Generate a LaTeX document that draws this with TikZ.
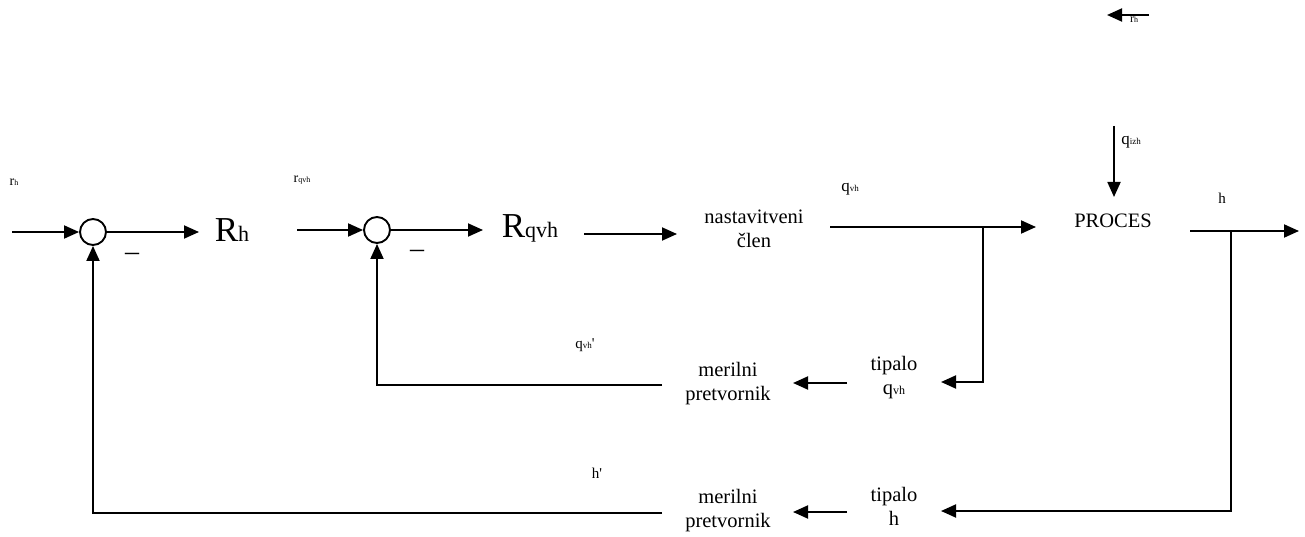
\documentclass[tikz,border=0pt]{standalone}
\usepackage{fontspec}
\setmainfont{Liberation Serif}[Ligatures=TeXOff]
\usetikzlibrary{arrows.meta}
\newcommand\fs[2]{{\fontsize{#1}{#1}\selectfont #2}}
\begin{document}
\begin{tikzpicture}[x=1pt,y=-1pt,
  line width=1.9pt,
  arr/.style={-{Triangle[length=15pt,width=13pt]}},
  sumnode/.style={circle,draw,line width=1.9pt,minimum size=26pt,inner sep=0pt},
  txt/.style={inner sep=0pt,align=center,font=\fontsize{20.5}{24}\selectfont},
  small/.style={inner sep=0pt}]
\useasboundingbox (0,0) rectangle (1305,537);
% nodes
\node[sumnode] (sum1) at (93,232) {};
\node[sumnode] (sum2) at (377,230) {};
\node[small] (Rh) at (232,230) {\fs{35}{R}\fs{22}{h}};
\node[small] (Rqvh) at (530,228) {\fs{35}{R}\fs{22}{qvh}};
\node[txt] (nast) at (754,229) {nastavitveni\\člen};
\node[txt] (proc) at (1113,221) {PROCES};
\node[txt] (tip1) at (894,378) {tipalo\\q\fs{12}{vh}};
\node[txt] (mer1) at (728,384) {merilni\\pretvornik};
\node[txt] (tip2) at (894,506) {tipalo\\h};
\node[txt] (mer2) at (728,511) {merilni\\pretvornik};
% labels
\node[small] (lrh) at (14,182) {\fs{14}{r}\fs{8}{h}};
\node[small] (lrqvh) at (302,180) {\fs{14}{r}\fs{8}{qvh}};
\node[small] (lqvh) at (850,189) {\fs{17}{q}\fs{9}{vh}};
\node[small] (lqizh) at (1131,142) {\fs{17}{q}\fs{9}{izh}};
\node[small] (lh) at (1222,198) {\fs{15}{h}};
\node[small] (lqvhp) at (585,345) {\fs{15}{q}\fs{9}{vh}\fs{15}{'}};
\node[small] (lhp) at (597,473) {\fs{15}{h'}};
\node[small] (lrtop) at (1134,20) {\fs{12}{r}\fs{8}{h}};
\node[small] (m1) at (132,257) {\fs{28}{–}};
\node[small] (m2) at (417,254) {\fs{28}{–}};
% coordinates
\coordinate (in1) at (12,232);
\coordinate (o1) at (199,232);
\coordinate (in2) at (297,230);
\coordinate (o2) at (483,230);
\coordinate (a3s) at (584,234);
\coordinate (a3e) at (677,234);
\coordinate (a4s) at (830,227);
\coordinate (b1) at (983,227);
\coordinate (a4e) at (1036,227);
\coordinate (qtop) at (1114,126);
\coordinate (qend) at (1114,197);
\coordinate (a5s) at (1190,231);
\coordinate (b2) at (1231,231);
\coordinate (a5e) at (1299,231);
\coordinate (c1) at (983,382);
\coordinate (t1in) at (941,382);
\coordinate (t1out) at (847,383);
\coordinate (m1in) at (793,383);
\coordinate (m1out) at (662,385);
\coordinate (c2) at (377,385);
\coordinate (c3) at (1231,511);
\coordinate (t2in) at (941,511);
\coordinate (t2out) at (847,512);
\coordinate (m2in) at (793,512);
\coordinate (m2out) at (662,513);
\coordinate (c4) at (93,513);
\coordinate (rt1) at (1149,15);
\coordinate (rt2) at (1107,15);
% connectors
\draw[arr] (in1) -- (sum1);
\draw[arr] (sum1) -- (o1);
\draw[arr] (in2) -- (sum2);
\draw[arr] (sum2) -- (o2);
\draw[arr] (a3s) -- (a3e);
\draw[arr] (a4s) -- (a4e);
\draw[arr] (qtop) -- (qend);
\draw[arr] (a5s) -- (a5e);
\draw[arr] (b1) -- (c1) -- (t1in);
\draw[arr] (t1out) -- (m1in);
\draw[arr] (m1out) -- (c2) -- (sum2);
\draw[arr] (b2) -- (c3) -- (t2in);
\draw[arr] (t2out) -- (m2in);
\draw[arr] (m2out) -- (c4) -- (sum1);
\draw[arr] (rt1) -- (rt2);
\end{tikzpicture}
\end{document}
